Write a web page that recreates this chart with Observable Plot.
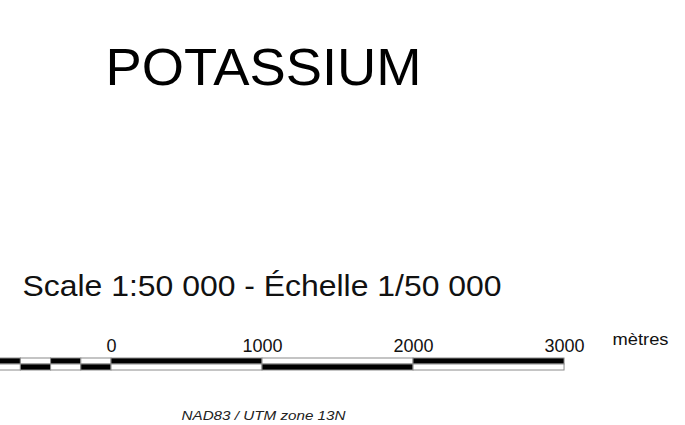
<!DOCTYPE html>
<html>
<head>
<meta charset="utf-8">
<script src="https://cdn.jsdelivr.net/npm/d3@7"></script>
<script src="https://cdn.jsdelivr.net/npm/@observablehq/plot@0.6"></script>
<style>
  html, body { margin: 0; padding: 0; background: #fff; }
  svg { display: block; font-family: "Liberation Sans", Arial, sans-serif; }
</style>
</head>
<body>
<div id="chart"></div>
<script>
// ---- data ----
const title = "POTASSIUM";
const scaleText = "Scale 1:50 000 - Échelle 1/50 000";
const unitText = "mètres";
const projText = "NAD83 / UTM zone 13N";
const tickValues = [0, 1000, 2000, 3000];
const tickLabels = ["0", "1000", "2000", "3000"];
const segStart = [-800, -600, -400, -200, 0, 1000, 2000];
const segEnd   = [-600, -400, -200, 0, 1000, 2000, 3000];
const topBlack = [true, false, true, false, true, false, true];

// build table for rect marks
const segments = [];
segStart.forEach((s, i) => {
  segments.push({x1: s, x2: segEnd[i], band: "top", black: topBlack[i]});
  segments.push({x1: s, x2: segEnd[i], band: "bottom", black: !topBlack[i]});
});
const ticks = tickValues.map((v, i) => ({v, label: tickLabels[i]}));

const font = "Liberation Sans, Arial, sans-serif";

const chart = Plot.plot({
  width: 685,
  height: 425,
  margin: 0,
  style: {background: "#fff", fontFamily: font},
  x: {domain: [-735, 3801], axis: null},
  y: {type: "band", domain: ["top", "bottom"], range: [357.5, 371], padding: 0, axis: null},
  marks: [
    Plot.rectX(segments, {
      x1: "x1", x2: "x2", y: "band",
      fill: d => d.black ? "#000" : "#fff",
      stroke: "#8a8a8a", strokeWidth: 1
    }),
    Plot.text(ticks, {
      x: "v", text: "label", frameAnchor: "top", lineAnchor: "bottom",
      dy: 351, fontSize: 18, fill: "#111"
    }),
    Plot.text([title], {
      text: d => d, frameAnchor: "top-left", textAnchor: "start", lineAnchor: "bottom",
      dx: 105, dy: 84, fontSize: 51, fill: "#000"
    }),
    Plot.text([scaleText], {
      text: d => d, frameAnchor: "top-left", textAnchor: "start", lineAnchor: "bottom",
      dx: 22, dy: 295, fontSize: 29, fill: "#111"
    }),
    Plot.text([unitText], {
      text: d => d, frameAnchor: "top-left", textAnchor: "start", lineAnchor: "bottom",
      dx: 612, dy: 344, fontSize: 17, fill: "#111"
    }),
    Plot.text([projText], {
      text: d => d, frameAnchor: "top-left", textAnchor: "start", lineAnchor: "bottom",
      dx: 181, dy: 419, fontSize: 13, fontStyle: "italic", fill: "#222"
    })
  ]
});

// stretch texts horizontally to the widths seen in the reference
const widths = {};
widths[title] = 316;
widths[scaleText] = 479;
widths[unitText] = 56;
widths[projText] = 164;
chart.querySelectorAll("text").forEach(t => {
  const w = widths[t.textContent];
  if (w) { t.setAttribute("textLength", w); t.setAttribute("lengthAdjust", "spacingAndGlyphs"); }
});

document.getElementById("chart").appendChild(chart);
</script>
</body>
</html>
